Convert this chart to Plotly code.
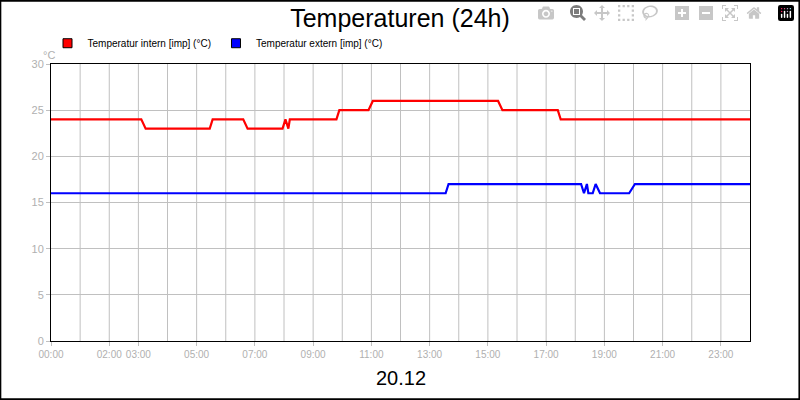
import plotly.graph_objects as go

# Stunden (0-24) und Temperaturen
intern_h = [0, 3.1, 3.25, 5.45, 5.55, 6.6, 6.75, 7.95, 8.05, 8.15, 8.2, 9.8, 9.9, 10.9, 11.05, 15.35, 15.5, 17.4, 17.5, 24]
intern_t = [24, 24, 23, 23, 24, 24, 23, 23, 24, 23, 24, 24, 25, 25, 26, 26, 25, 25, 24, 24]
extern_h = [0, 13.55, 13.65, 18.2, 18.3, 18.4, 18.45, 18.6, 18.7, 18.85, 19.85, 20.05, 24]
extern_t = [16, 16, 17, 17, 16, 17, 16, 16, 17, 16, 16, 17, 17]
tick_h = [0, 2, 3, 5, 7, 9, 11, 13, 15, 17, 19, 21, 23]
tick_txt = ['%02d:00' % h for h in tick_h]
names = ['Temperatur intern [imp] (°C)', 'Temperatur extern [imp] (°C)']
colors = ['#ff0000', '#0000ff']

fig = go.Figure()
fig.add_trace(go.Scatter(x=intern_h, y=intern_t, mode='lines', showlegend=False,
                         line=dict(color=colors[0], width=2.2)))
fig.add_trace(go.Scatter(x=extern_h, y=extern_t, mode='lines', showlegend=False,
                         line=dict(color=colors[1], width=2.2)))
# Legendeneintraege mit Quadraten
for n, c in zip(names, colors):
    fig.add_trace(go.Scatter(x=[None], y=[None], mode='markers', name=n,
                             marker=dict(symbol='square', size=9, color=c, line=dict(color='black', width=1))))

grid = [dict(type='line', x0=h, x1=h, y0=0, y1=30, xref='x', yref='y', layer='below',
             line=dict(color='#c0c0c0', width=1)) for h in range(1, 24)]
grid.append(dict(type='rect', x0=-0.0725, x1=1.0707, y0=-0.21, y1=1.228, xref='paper', yref='paper',
                 line=dict(color='black', width=2)))

fig.update_layout(
    width=800, height=400,
    margin=dict(l=51, r=50, t=64, b=59),
    paper_bgcolor='white', plot_bgcolor='white',
    font=dict(family='Liberation Sans, Arial', color='black'),
    title=dict(text='Temperaturen (24h)', x=0.5, xanchor='center', y=0.955, yanchor='middle',
               font=dict(size=25)),
    showlegend=True,
    legend=dict(orientation='h', x=-0.005, y=1.075, xanchor='left', yanchor='middle',
                font=dict(size=10), bgcolor='rgba(0,0,0,0)', itemwidth=30, tracegroupgap=0),
    xaxis=dict(range=[0, 24], tickvals=tick_h, ticktext=tick_txt, showgrid=False, zeroline=False,
               showline=True, linecolor='black', linewidth=1, mirror=True, tickangle=0,
               ticks='outside', ticklen=4, tickcolor='#c0c0c0',
               tickfont=dict(size=10, family='Liberation Sans Narrow, Liberation Sans', color='#b0b0b0')),
    yaxis=dict(range=[0, 30], dtick=5, showgrid=True, gridcolor='#c0c0c0', zeroline=False,
               showline=True, linecolor='black', linewidth=1, mirror=True,
               ticks='outside', ticklen=4, tickcolor='#c0c0c0',
               tickfont=dict(size=11, color='#b0b0b0')),
    shapes=grid,
    annotations=[
        dict(text='°C', x=-0.015, y=1.06, xref='paper', yref='paper', showarrow=False,
             font=dict(size=11, color='#b0b0b0')),
        dict(text='20.12', x=0.5, y=-0.135, xref='paper', yref='paper', showarrow=False,
             yanchor='middle', font=dict(size=20)),
    ],
)

fig.write_html('out.html', post_script="document.body.style.margin='0';document.body.style.overflow='hidden';")
